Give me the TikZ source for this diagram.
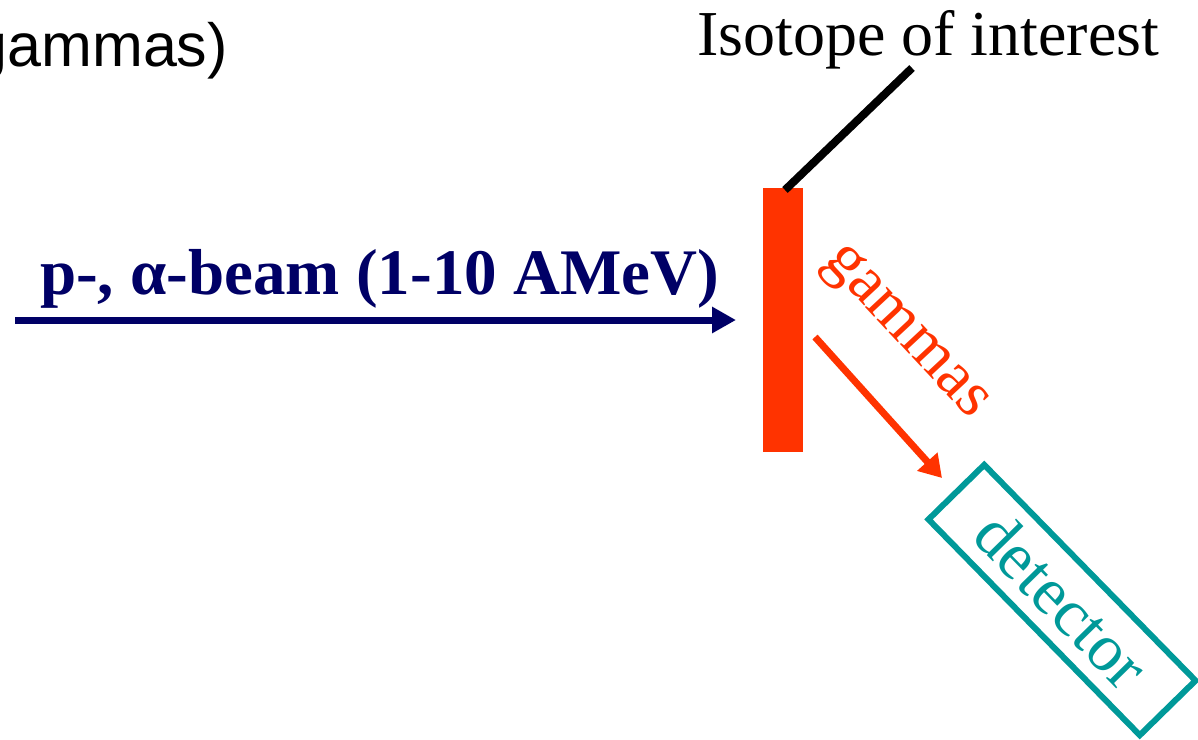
\documentclass[tikz,border=0pt]{standalone}
\usepackage{fontspec}
\setmainfont{Liberation Serif}
\newfontfamily\arialfont{Liberation Sans}
\usetikzlibrary{arrows.meta}
\definecolor{beamblue}{HTML}{000066}
\definecolor{tgtred}{HTML}{FF3300}
\definecolor{detteal}{HTML}{009999}
\tikzset{
  big/.style={font=\fontsize{64}{72}\selectfont, inner sep=0pt},
  beamarrow/.style={draw=beamblue, line width=7pt, -{Triangle[length=24pt,width=25pt]}},
  gamarrow/.style={draw=tgtred, line width=7pt, -{Triangle[length=22pt,width=26pt]}},
}
\begin{document}
\begin{tikzpicture}[x=1pt,y=-1pt]
\useasboundingbox (0,0) rectangle (1198,739);
% top-left fragment
\node[big, anchor=base east, font=\arialfont\fontsize{61}{70}\selectfont] (frag) at (228,66) {gammas)};
% target bar
\node[fill=tgtred, minimum width=40pt, minimum height=264pt, inner sep=0pt, draw=none] (bar) at (783,320) {};
% isotope label
\node[big, anchor=base west] (iso) at (697,55) {Isotope of interest};
\coordinate (isoend) at (912,68);
\coordinate (bartop) at (785,190);
\draw[line width=8pt] (bartop) -- (isoend);
% beam
\coordinate (beamstart) at (15,320);
\coordinate (beamend) at (736,320);
\draw[beamarrow] (beamstart) -- (beamend);
\node[big, anchor=base west, text=beamblue, font=\bfseries\fontsize{65}{72}\selectfont] (beamlbl) at (40,294) {p-, α-beam (1-10 AMeV)};
% gammas
\node[big, text=tgtred, font=\fontsize{65}{72}\selectfont, rotate=-47] (gamlbl) at (904,334) {gammas};
\coordinate (gs) at (815,337);
\coordinate (ge) at (942,478);
\draw[gamarrow] (gs) -- (ge);
% detector
\node[draw=detteal, line width=6pt, minimum width=302pt, minimum height=78pt, inner sep=0pt, rotate=-45.6, text=detteal, font=\fontsize{67}{72}\selectfont] (det) at (1062,600) {detector};
\end{tikzpicture}
\end{document}
